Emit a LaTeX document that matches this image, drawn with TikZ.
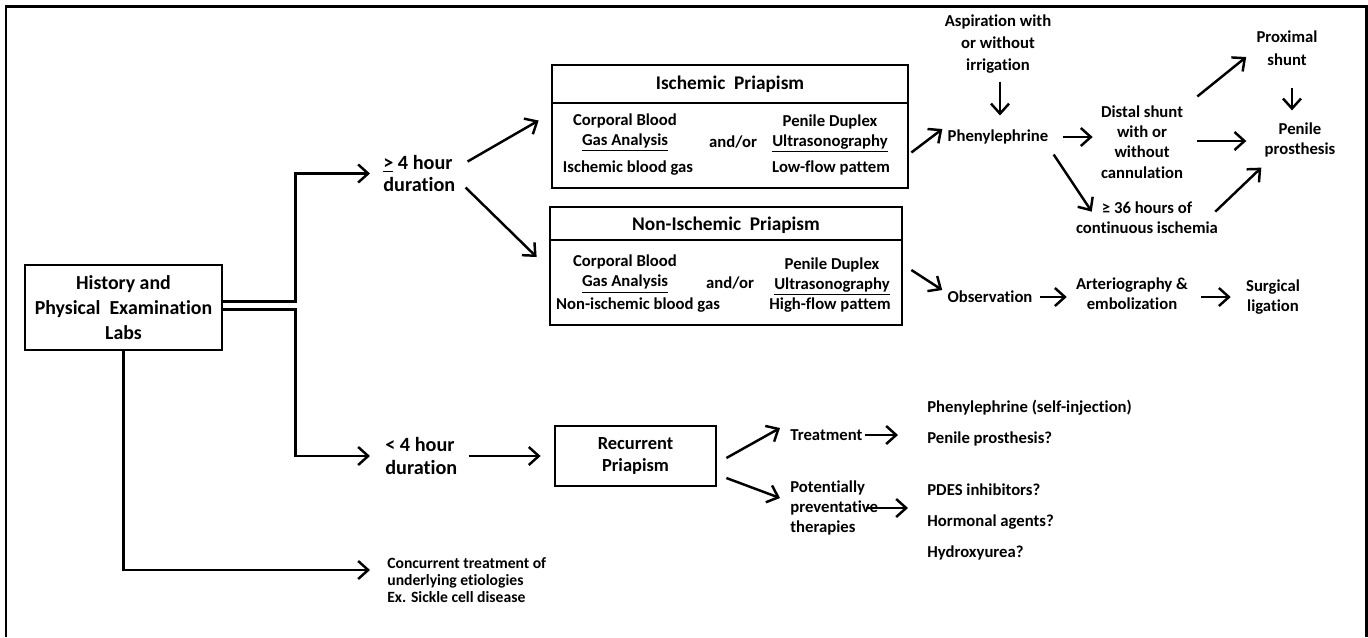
\documentclass[tikz,border=0pt]{standalone}
\usepackage{fontspec}
\setmainfont{Carlito}[Ligatures=NoCommon]
\usetikzlibrary{arrows.meta,positioning,calc}

\tikzset{
  frame/.style={line width=1.7pt},
  box/.style={rectangle, draw, line width=1.6pt},
  rule/.style={line width=1.6pt},
  txt/.style={inner sep=0pt, align=center, font=\bfseries\fontsize{9.5}{11.5}\selectfont},
  big/.style={font=\bfseries\fontsize{11.3}{14}\selectfont},
  head/.style={font=\bfseries\fontsize{11}{13}\selectfont},
  dur/.style={font=\bfseries\fontsize{11.5}{13}\selectfont},
  thin/.style={font=\bfseries\fontsize{8.9}{9.8}\selectfont},
  arr/.style={-{Straight Barb[length=2mm,width=3.6mm]}, line width=1.4pt},
}

\begin{document}
\begin{tikzpicture}[x=0.02cm, y=-0.02cm]
\useasboundingbox (0,0) rectangle (1368,637);
\draw[frame] (6,637) -- (6,6) -- (1366,6) -- (1366,637);

% start and durations
\node[box, txt, big, minimum width=3.94cm, minimum height=1.7cm] (hist) at (123.5,307.5) {History and\\Physical\ \ Examination\\Labs};
\node[txt, dur, align=left, anchor=west] (ge4) at (383,173.5) {\underline{>} 4 hour\\duration};
\node[txt, dur, align=left, anchor=west] (lt4) at (385,456) {< 4 hour\\duration};
\node[txt, thin, align=left, anchor=west] (conc) at (387,580) {Concurrent treatment of\\underlying etiologies\\Ex. Sickle cell disease};

% ischemic box
\node[box, minimum width=7.12cm, minimum height=2.46cm] (isch) at (730,126.5) {};
\draw[rule] (isch.west |- 0,103) -- (isch.east |- 0,103);
\node[txt, head] (isch-title) at (730,84) {Ischemic\ \ Priapism};
\node[txt] (isch-cbg) at (625,132.5) {Corporal Blood\\\underline{Gas Analysis}};
\node[txt] (isch-and) at (733,142) {and/or};
\node[txt] (isch-pdu) at (830,133.5) {Penile Duplex\\\underline{Ultrasonography}};
\node[txt] (isch-bg) at (628,168) {Ischemic blood gas};
\node[txt] (isch-flow) at (831,168) {Low-flow pattem};

% non-ischemic box
\node[box, minimum width=7.04cm, minimum height=2.36cm] (non) at (726,266) {};
\draw[rule] (non.west |- 0,240) -- (non.east |- 0,240);
\node[txt, head] (non-title) at (726,225) {Non-Ischemic\ \ Priapism};
\node[txt] (non-cbg) at (625,274) {Corporal Blood\\\underline{Gas Analysis}};
\node[txt] (non-and) at (730,283) {and/or};
\node[txt] (non-pdu) at (832,276.5) {Penile Duplex\\\underline{Ultrasonography}};
\node[txt] (non-bg) at (638,305) {Non-ischemic blood gas};
\node[txt] (non-flow) at (830,305) {High-flow pattem};

% recurrent box
\node[box, txt, font=\bfseries\fontsize{10.5}{13}\selectfont, minimum width=3.22cm, minimum height=1.2cm] (rec) at (635.5,456) {Recurrent\\Priapism};

% ischemic management
\node[txt, font=\bfseries\fontsize{9.5}{12.5}\selectfont] (asp) at (998,44) {Aspiration with\\or without\\irrigation};
\node[txt] (phen) at (998,137) {Phenylephrine};
\node[txt] (distal) at (1142,142) {Distal shunt\\with or\\without\\cannulation};
\node[txt, font=\bfseries\fontsize{9.5}{13}\selectfont] (prox) at (1287,48) {Proximal\\shunt};
\node[txt] (penile) at (1300,140) {Penile\\prosthesis};
\node[txt] (hrs36) at (1147,218) {≥ 36 hours of\\continuous ischemia};

% non-ischemic management
\node[txt] (obs) at (990,297) {Observation};
\node[txt] (arter) at (1132,294) {Arteriography \&\\embolization};
\node[txt] (surg) at (1273,297) {Surgical\\ligation};

% recurrent management
\node[txt, anchor=west] (treat) at (790,435) {Treatment};
\node[txt, align=left, anchor=west] (pot) at (790,508) {Potentially\\preventative\\therapies};
\node[txt, align=left, anchor=west] (treatopts) at (927,423) {Phenylephrine (self-injection)\\[6pt]Penile prosthesis?};
\node[txt, align=left, anchor=west] (prevopts) at (927,522) {PDES inhibitors?\\[6pt]Hormonal agents?\\[6pt]Hydroxyurea?};

% connectors
\draw[arr] ([shift={(0,-6)}]hist.east) -- ++(72,0) |- ([shift={(-13,0)}]ge4.west);
\draw[arr] ([shift={(0,2)}]hist.east) -- ++(72,0) |- ([shift={(-15,0)}]lt4.west);
\draw[arr] (hist.south) |- ([shift={(-17,-10)}]conc.west);
\draw[arr] ([shift={(12,-12)}]ge4.east) -- ([shift={(-12,-6)}]isch.west);
\draw[arr] ([shift={(10,14)}]ge4.east) -- ([shift={(-12,-9)}]non.west);
\draw[arr, shorten <=0.22cm, shorten >=0.26cm] (lt4.east) -- (rec.west);

\draw[arr] ([shift={(2,26)}]isch.east) -- ([shift={(-5,-8)}]phen.west);
\draw[arr] ([shift={(2,8)}]asp.south) -- ([shift={(2,-14)}]phen.north);
\draw[arr, shorten <=0.28cm, shorten >=0.16cm] (phen.east) -- (phen.east -| distal.west);
\draw[arr] ([shift={(14,-9)}]distal.north east) -- ([shift={(-10,9)}]prox.west);
\draw[arr] ([shift={(5,22)}]prox.south) -- ([shift={(-8,-12)}]penile.north);
\draw[arr] ([shift={(14,-1)}]distal.east) -- ([shift={(-18,1)}]penile.west);
\draw[arr] ([shift={(5,10)}]phen.south east) -- ([shift={(16,10)}]hrs36.north west);
\draw[arr] ([shift={(-3,10)}]hrs36.north east) -- ([shift={(-3,10)}]penile.south west);

\draw[arr] ([shift={(8,4)}]non.east) -- ([shift={(-5,-7)}]obs.west);
\draw[arr, shorten <=0.14cm, shorten >=0.18cm] (obs.east) -- (obs.east -| arter.west);
\draw[arr, shorten <=0.26cm, shorten >=0.3cm] (obs.east -| arter.east) -- (obs.east -| surg.west);

\draw[arr] ([shift={(9,2)}]rec.east) -- ([shift={(-10,-7)}]treat.west);
\draw[arr] ([shift={(9,22)}]rec.east) -- ([shift={(-10,-10)}]pot.west);
\draw[arr, shorten <=0.04cm, shorten >=0.58cm] (treat.east) -- (treat.east -| treatopts.west);
\draw[arr, shorten >=0.38cm] ([shift={(-12,0)}]pot.east) -- (pot.east -| prevopts.west);
\end{tikzpicture}
\end{document}
